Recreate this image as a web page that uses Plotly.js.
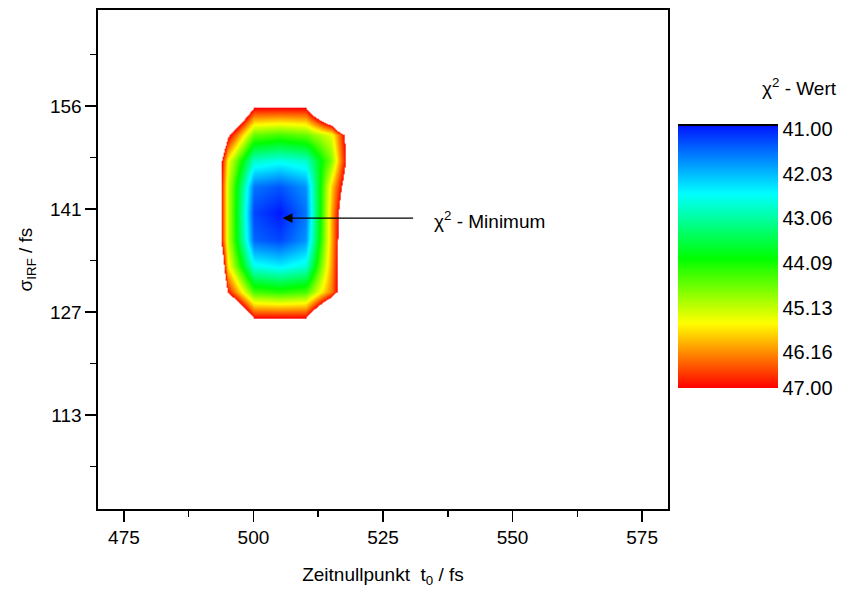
<!DOCTYPE html>
<html>
<head>
<meta charset="utf-8">
<script src="https://cdn.plot.ly/plotly-3.0.1.min.js"></script>
<style>html,body{margin:0;padding:0;background:#fff;}#chart{width:851px;height:589px;}</style>
</head>
<body>
<div id="chart"></div>
<script>
// Grid of the chi^2 surface
var t0Values = [490, 495, 500, 505, 510, 515, 520];              // Zeitnullpunkt t0 / fs
var sigmaValues = [122.52, 126.17, 129.82, 133.48, 137.13, 140.78, 144.43, 148.09, 151.74, 155.39, 159.04]; // sigma_IRF / fs
var chi2Rows = [
  [60, 60, 60, 60, 60, 60, 60],
  [60, 50, 47.0, 47.0, 47.0, 50, 60],
  [55, 46.9, 44.4, 44.2, 44.4, 46.3, 49.8],
  [55, 45.6, 42.6, 42.4, 42.7, 46.1, 50.3],
  [52, 45.2, 41.5, 41.3, 41.8, 46.0, 50.2],
  [52, 45.2, 41.3, 41.0, 41.6, 46.0, 49.8],
  [52, 45.2, 41.6, 41.4, 41.8, 45.8, 48.9],
  [52, 45.5, 42.8, 42.6, 42.8, 44.8, 48.8],
  [53, 47.2, 44.6, 44.4, 44.6, 45.4, 48.6],
  [60, 50, 47.0, 47.0, 47.0, 50, 58],
  [60, 60, 60, 60, 60, 60, 60]
];
var colorbarTicks = [41.00, 42.03, 43.06, 44.09, 45.13, 46.16, 47.00];
var minimumPoint = {t0: 505.65, sigma: 140.08};

var FONT = 'Liberation Sans, Arial, sans-serif';

var zmin = 41, zmaxCut = 47, zmax = 47.6;
function f(v){ return (v - zmin) / (zmax - zmin); }
var mainScale = [
  [0, 'rgb(0,24,255)'],
  [f(42.5), 'rgb(0,255,255)'],
  [f(44.0), 'rgb(0,255,0)'],
  [f(45.5), 'rgb(255,255,0)'],
  [f(zmaxCut), 'rgb(255,0,0)'],
  [f(zmaxCut) + 0.0015, 'rgb(255,255,255)'],
  [1, 'rgb(255,255,255)']
];

// colorbar shown with 41 at top: use negated values
var cbMin = -47.0, cbMax = -40.88;
function g(v){ return (-v - cbMin) / (cbMax - cbMin); }
var barScale = [
  [0, 'rgb(255,0,0)'],
  [g(45.5), 'rgb(255,255,0)'],
  [g(44.0), 'rgb(0,255,0)'],
  [g(42.5), 'rgb(0,255,255)'],
  [0.9905, 'rgb(0,24,255)'],
  [0.991, 'rgb(0,0,0)'],
  [1, 'rgb(0,0,0)']
];

var heat = {
  type: 'heatmap',
  x: t0Values, y: sigmaValues, z: chi2Rows,
  zmin: zmin, zmax: zmax,
  zsmooth: 'best',
  colorscale: mainScale,
  showscale: false,
  hoverinfo: 'skip'
};

var bar = {
  type: 'scatter', mode: 'markers',
  x: [null], y: [null],
  hoverinfo: 'skip', showlegend: false,
  marker: {
    color: [-44], cmin: cbMin, cmax: cbMax, colorscale: barScale, showscale: true,
    colorbar: {
      x: (678 - 98) / 570, xanchor: 'left', xref: 'paper',
      y: (509 - 124.3) / 499, yanchor: 'top', yref: 'paper',
      thicknessmode: 'pixels', thickness: 100,
      lenmode: 'pixels', len: 264,
      xpad: 0, ypad: 0, outlinewidth: 0,
      tickmode: 'array',
      tickvals: colorbarTicks.map(function(v){ return -v; }),
      ticktext: colorbarTicks.map(function(v){ return v.toFixed(2); }),
      ticks: '', ticklabelpad: 2,
      tickfont: {family: FONT, size: 20, color: '#000'}
    }
  }
};

var layout = {
  width: 851, height: 589,
  margin: {l: 98, r: 183, t: 10, b: 80},
  paper_bgcolor: '#fff', plot_bgcolor: '#fff',
  font: {family: FONT, size: 19, color: '#000'},
  showlegend: false,
  xaxis: {
    range: [470, 580], tick0: 475, dtick: 25,
    ticks: 'outside', ticklen: 11, tickwidth: 1.5, tickcolor: '#000',
    minor: {tick0: 475, dtick: 12.5, ticks: 'outside', ticklen: 6, tickwidth: 1.5, tickcolor: '#000'},
    showline: true, linewidth: 1.6, linecolor: '#000', mirror: true,
    showgrid: false, zeroline: false,
    tickfont: {family: FONT, size: 19, color: '#000'},
    title: {text: 'Zeitnullpunkt&nbsp; t<sub>0</sub> / fs', font: {family: FONT, size: 19, color: '#000'}, standoff: 20}
  },
  yaxis: {
    range: [99.59, 169.03], tick0: 112.6667, dtick: 14.3333, tickformat: '.0f',
    ticks: 'outside', ticklen: 11, tickwidth: 1.5, tickcolor: '#000',
    minor: {tick0: 112.6667, dtick: 7.16667, ticks: 'outside', ticklen: 6, tickwidth: 1.5, tickcolor: '#000'},
    showline: true, linewidth: 1.6, linecolor: '#000', mirror: true,
    showgrid: false, zeroline: false,
    tickfont: {family: FONT, size: 19, color: '#000'},
    title: {text: 'σ<sub>IRF</sub> / fs', font: {family: FONT, size: 19, color: '#000'}, standoff: 12}
  },
  annotations: [
    {
      xref: 'x', yref: 'y', x: minimumPoint.t0, y: minimumPoint.sigma,
      axref: 'x', ayref: 'y', ax: 531.1, ay: minimumPoint.sigma,
      text: '', showarrow: true, arrowhead: 2, arrowsize: 1.5, arrowwidth: 1.3, arrowcolor: '#000'
    },
    {
      xref: 'x', yref: 'y', x: 545.5, y: 139.8,
      text: 'χ<sup>2</sup> - Minimum', showarrow: false,
      font: {family: FONT, size: 19, color: '#000'}
    },
    {
      xref: 'paper', yref: 'paper', x: (839 - 98) / 570, y: (509 - 87) / 499,
      xanchor: 'right', yanchor: 'middle',
      text: 'χ<sup>2</sup> - Wert', showarrow: false,
      font: {family: FONT, size: 19, color: '#000'}
    }
  ]
};

Plotly.newPlot('chart', [heat, bar], layout, {displayModeBar: false, staticPlot: true});
</script>
</body>
</html>
